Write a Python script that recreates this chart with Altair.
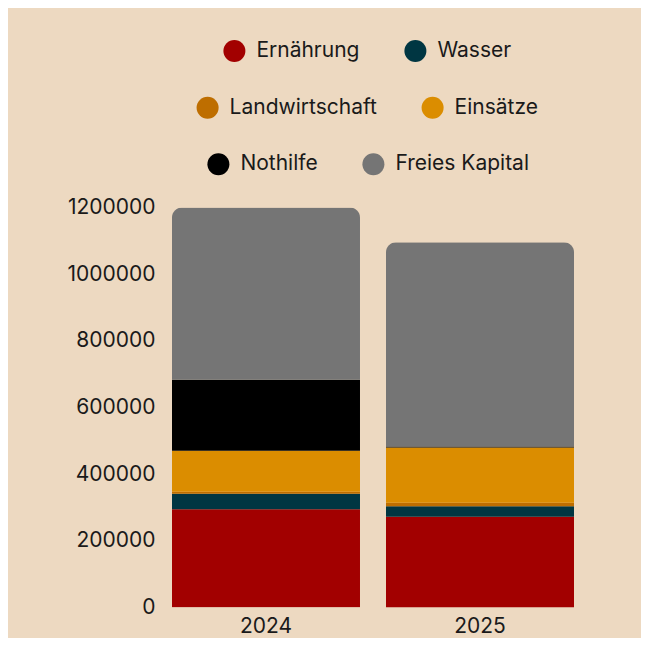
import altair as alt
import pandas as pd

years = ["2024", "2025"]
categories = ["Ernährung", "Wasser", "Landwirtschaft", "Einsätze", "Nothilfe", "Freies Kapital"]
colors = ["#A20000", "#003642", "#BE6E00", "#DB8D00", "#000000", "#757575"]

ernaehrung = [295000, 272000]
wasser = [46000, 32000]
landwirtschaft = [6000, 10000]
einsaetze = [123000, 166000]
nothilfe = [213000, 3000]
freies_kapital = [517000, 613000]

y_ticks = [0, 200000, 400000, 600000, 800000, 1000000, 1200000]

series = [ernaehrung, wasser, landwirtschaft, einsaetze, nothilfe, freies_kapital]
rows = []
for i, (cat, vals) in enumerate(zip(categories, series)):
    for yr, v in zip(years, vals):
        rows.append({"Jahr": yr, "Kategorie": cat, "Wert": v, "idx": i})
df = pd.DataFrame(rows)

base = alt.Chart(df)

bars = base.mark_bar(cornerRadiusTopLeft=10, cornerRadiusTopRight=10).encode(
    x=alt.X(
        "Jahr:N",
        scale=alt.Scale(paddingInner=0.1215, paddingOuter=0.0607),
        axis=alt.Axis(title=None, labelAngle=0, domain=False, ticks=False, labelPadding=8),
    ),
    y=alt.Y(
        "Wert:Q",
        stack="zero",
        scale=alt.Scale(domain=[0, 1200000], nice=False),
        axis=alt.Axis(title=None, values=y_ticks, format="d", domain=False, ticks=False,
                      grid=False, labelPadding=4),
    ),
    color=alt.Color("Kategorie:N", scale=alt.Scale(domain=categories, range=colors), legend=None),
    order=alt.Order("idx:Q", sort="ascending"),
)

legend_rows = [(0, 2, 64.4, -167.5), (2, 4, 37.6, -110.8), (4, 6, 48.4, -54.2)]
layers = [bars]
for a, b, lx, ly in legend_rows:
    layers.append(
        base.transform_filter("false").mark_circle(opacity=1).encode(
            color=alt.Color(
                "Kategorie:N",
                scale=alt.Scale(domain=categories[a:b], range=colors[a:b]),
                legend=alt.Legend(orient="none", legendX=lx, legendY=ly,
                                  direction="horizontal", title=None),
            )
        )
    )

chart = (
    alt.layer(*layers)
    .resolve_scale(color="independent")
    .properties(
        width=428,
        height=400,
        autosize=alt.AutoSizeParams(type="none"),
        padding={"left": 151, "top": 199.5, "right": 54, "bottom": 30},
    )
    .configure(background="#EDD9C1")
    .configure_view(stroke=None)
    .configure_axis(labelFont="Inter", labelFontSize=21, labelColor="#1a1a1a")
    .configure_legend(
        labelFont="Inter", labelFontSize=21, labelColor="#1a1a1a",
        symbolSize=484, symbolType="circle", symbolStrokeWidth=0,
        labelOffset=11, columnPadding=44, padding=0, symbolOpacity=1,
    )
)

chart.save("out.html", embed_options={"renderer": "svg", "actions": False})
